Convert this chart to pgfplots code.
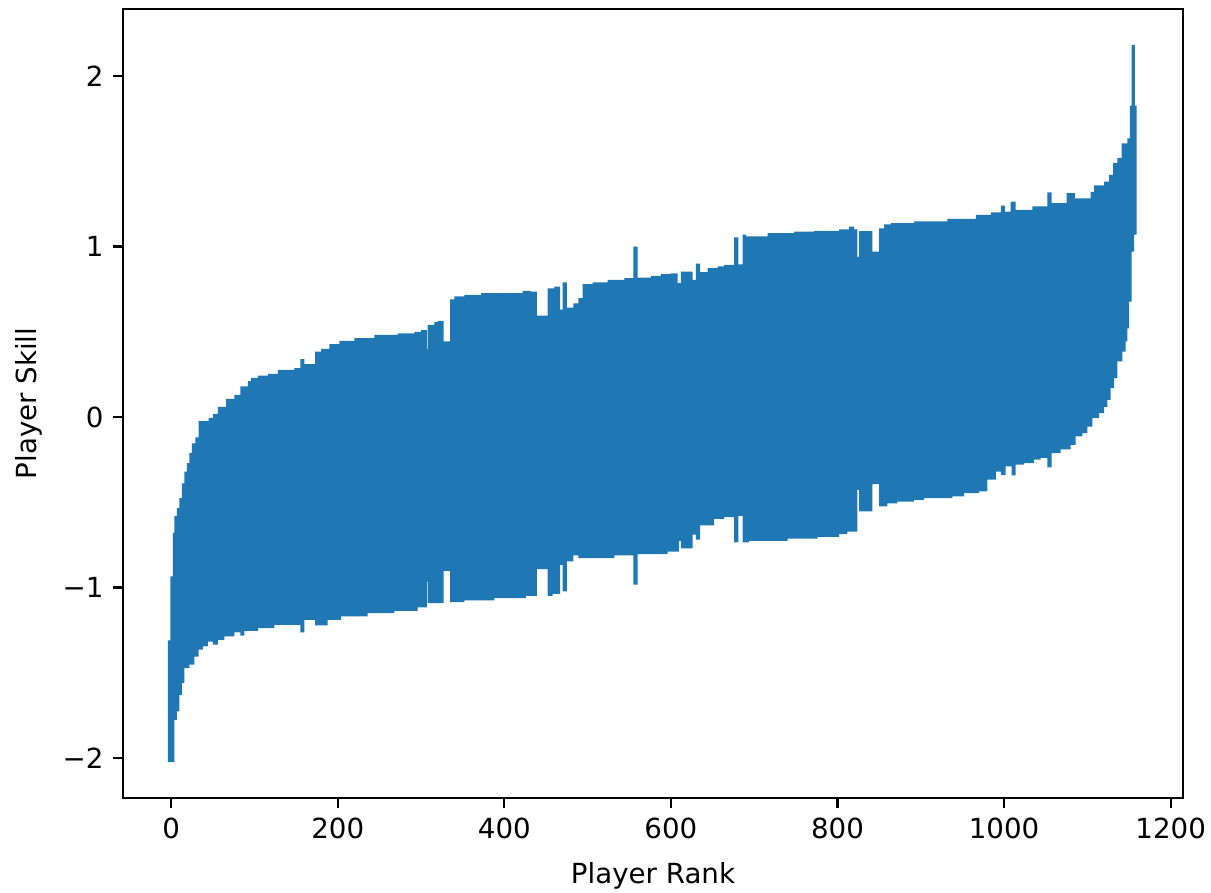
\documentclass[border=0pt]{standalone}
\usepackage{fontspec}
\setmainfont{DejaVu Sans}
\usepackage{pgfplots}
\usepackage{pgfplotstable}
\pgfplotsset{compat=1.18}
\usepgfplotslibrary{fillbetween}

\definecolor{mplblue}{HTML}{1F77B4}

% upper and lower envelope of the skill intervals (rank, value), step-wise
\pgfplotstableread{
x y
-4 -1.31
-0.8 -0.935
2 -0.68
4 -0.58
7 -0.535
10 -0.476
13 -0.39
16 -0.32
19 -0.27
22 -0.21
25 -0.155
29 -0.12
33 -0.024
45 -0.007
50 0.018
56 0.06
66 0.107
76 0.13
83 0.18
92 0.21
96 0.23
104 0.243
116 0.253
128 0.277
148 0.286
155 0.34
160 0.31
173 0.384
180 0.40
190 0.427
202 0.447
220 0.462
244 0.482
272 0.49
292 0.50
300 0.51
307 0.40
308 0.54
316 0.556
320 0.564
327 0.443
335 0.69
340 0.707
352 0.717
372 0.726
422 0.74
432 0.735
439 0.594
452 0.755
460 0.765
467 0.63
470 0.79
475 0.642
483 0.667
489 0.697
494 0.779
506 0.79
524 0.805
544 0.814
555 1.0
560 0.818
576 0.828
588 0.838
600 0.843
608 0.785
612 0.853
626 0.805
630 0.90
635 0.85
644 0.873
656 0.883
664 0.893
676 1.053
681 0.896
686 1.07
690 1.06
716 1.078
748 1.088
772 1.092
802 1.10
814 1.117
820 1.10
824 0.94
826 1.09
842 0.97
850 1.107
856 1.13
864 1.137
892 1.147
932 1.162
966 1.186
984 1.20
996 1.24
1001 1.205
1008 1.264
1014 1.215
1034 1.235
1052 1.317
1057 1.254
1075 1.313
1085 1.283
1104 1.32
1108 1.358
1120 1.38
1126 1.42
1131 1.49
1136 1.52
1141 1.605
1148 1.635
1151 1.827
1153 2.183
1157 1.827
1159 1.827
}\upperenv

\pgfplotstableread{
x y
-4 -2.025
4 -1.776
7 -1.727
10 -1.63
13 -1.56
16 -1.473
22 -1.453
28 -1.405
33 -1.365
38 -1.346
44 -1.317
50 -1.336
56 -1.307
64 -1.287
76 -1.264
83 -1.283
88 -1.254
104 -1.239
124 -1.219
155 -1.264
160 -1.19
173 -1.223
188 -1.19
204 -1.17
236 -1.15
268 -1.137
296 -1.117
307 -0.965
308 -1.092
327 -0.902
335 -1.086
352 -1.076
388 -1.063
426 -1.049
439 -0.893
452 -1.049
458 -1.037
467 -0.867
470 -1.023
475 -0.847
483 -0.812
489 -0.828
532 -0.812
555 -0.984
560 -0.805
596 -0.789
610 -0.726
612 -0.77
626 -0.69
630 -0.72
635 -0.636
652 -0.597
664 -0.587
676 -0.736
681 -0.58
686 -0.736
694 -0.726
740 -0.714
776 -0.703
802 -0.687
812 -0.672
824 -0.427
826 -0.554
842 -0.394
850 -0.525
860 -0.506
872 -0.496
892 -0.486
904 -0.476
938 -0.466
952 -0.447
970 -0.437
980 -0.368
990 -0.32
996 -0.34
1002 -0.29
1009 -0.343
1014 -0.28
1024 -0.27
1036 -0.25
1044 -0.24
1052 -0.296
1057 -0.212
1068 -0.19
1080 -0.163
1086 -0.114
1094 -0.095
1100 -0.056
1106 -0.007
1114 0.022
1120 0.06
1124 0.10
1128 0.17
1132 0.228
1136 0.326
1142 0.384
1146 0.443
1148 0.52
1150 0.677
1153 0.97
1156 1.07
1159 1.07
}\lowerenv

\begin{document}
\begin{tikzpicture}
\begin{axis}[
    scale only axis,
    width=383pt, height=285.1pt,
    xmin=-57.85, xmax=1214.85,
    ymin=-2.2355, ymax=2.3935,
    xtick={0,200,400,600,800,1000,1200},
    xticklabels={0,200,400,600,800,1000,1200},
    ytick={-2,-1,0,1,2},
    yticklabels={−2,−1,0,1,2},
    tick align=outside,
    major tick length=3.5pt,
    xtick pos=lower, ytick pos=left,
    tick style={black, line width=0.8pt},
    axis line style={line width=0.8pt},
    ticklabel style={font=\fontsize{10}{12}\selectfont},
    label style={font=\fontsize{10}{12}\selectfont},
    xlabel={Player Rank},
    ylabel={Player Skill},
    xlabel style={at={(rel axis cs:0.5,-0.099)}, anchor=center},
    ylabel style={at={(rel axis cs:-0.0885,0.5)}, anchor=center},
    clip=false,
]
\addplot[name path=hi, const plot, draw=none] table {\upperenv};
\addplot[name path=lo, const plot, draw=none] table {\lowerenv};
\addplot[fill=mplblue, draw=none] fill between[of=hi and lo];
% page extent of the original figure
\coordinate (bbsw) at (rel axis cs:-0.116,-0.1191);
\coordinate (bbne) at (rel axis cs:1.0264,1.0114);
\end{axis}
\pgfresetboundingbox
\useasboundingbox (bbsw) rectangle (bbne);
\end{tikzpicture}
\end{document}
